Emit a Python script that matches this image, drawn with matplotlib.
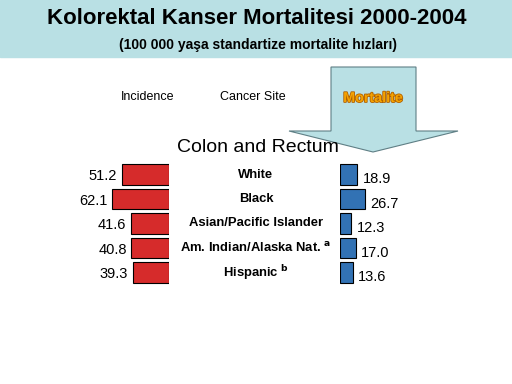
import matplotlib
matplotlib.use('Agg')
import matplotlib.pyplot as plt
from matplotlib.patches import Rectangle, Polygon
import matplotlib.patheffects as pe

# Data
GROUPS = ['White', 'Black', 'Asian/Pacific Islander', 'Am. Indian/Alaska Nat.', 'Hispanic']
MARKS = ['', '', '', 'a', 'b']
INCIDENCE = [51.2, 62.1, 41.6, 40.8, 39.3]
MORTALITY = [18.9, 26.7, 12.3, 17.0, 13.6]

TITLE = 'Kolorektal Kanser Mortalitesi 2000-2004'
SUBTITLE = '(100 000 yaşa standartize mortalite hızları)'

RED = '#d62b2b'
BLUE = '#3272b4'
BAND = '#b9e0e4'
FONT = 'Liberation Sans'

W, H = 512, 384
plt.rcParams['font.family'] = [FONT, 'DejaVu Sans']

fig = plt.figure(figsize=(W / 100, H / 100), dpi=100)

# background axes in pixel coordinates for the slide decorations
bg = fig.add_axes([0, 0, 1, 1])
bg.set_xlim(0, W)
bg.set_ylim(H, 0)
bg.axis('off')

bg.add_patch(Rectangle((0, 0), W, 57, color=BAND, zorder=0))
bg.text(W / 2 + 1, 19, TITLE, ha='center', va='center', fontsize=16, fontweight='bold')
bg.text(W / 2 + 2, 45, SUBTITLE, ha='center', va='center', fontsize=10, fontweight='bold')

bg.text(148, 97, 'Incidence', ha='center', va='center', fontsize=9)
bg.text(253, 97, 'Cancer Site', ha='center', va='center', fontsize=9)

arrow = [(331, 67), (416, 67), (416, 131), (458, 131), (373, 152),
         (289, 131), (331, 131)]
bg.add_patch(Polygon(arrow, closed=True, facecolor=BAND, edgecolor='#5f7f85',
                     linewidth=0.8, zorder=1))
bg.text(373, 98, 'Mortalite', ha='center', va='center', fontsize=10.3,
        fontweight='bold', color='#f5a300', zorder=2,
        path_effects=[pe.withStroke(linewidth=1.2, foreground='#b06000')])

bg.text(258, 148, 'Colon and Rectum', ha='center', va='center', fontsize=14)

# bar panels
scale = 0.92            # pixels per unit
xmax = 70
pw = xmax * scale
row = 24.5
top = 174.5 - row / 2
ph = row * len(GROUPS)


def panel(left_px):
    return fig.add_axes([left_px / W, 1 - (top + ph) / H, pw / W, ph / H])


ax_i = panel(169 - pw)
ax_m = panel(340)
ypos = list(range(len(GROUPS)))

ax_i.barh(ypos, INCIDENCE, height=0.82, color=RED, edgecolor='black', linewidth=0.8)
ax_m.barh(ypos, MORTALITY, height=0.82, color=BLUE, edgecolor='black', linewidth=0.8)

for ax in (ax_i, ax_m):
    ax.set_ylim(len(GROUPS) - 0.5, -0.5)
    ax.set_xlim(0, xmax)
    ax.axis('off')
ax_i.invert_xaxis()

for y, v in zip(ypos, INCIDENCE):
    ax_i.text(v + 5, y + 0.08, f'{v:.1f}', ha='right', va='center', fontsize=10.5)
for y, v in zip(ypos, MORTALITY):
    ax_m.text(v + 6, y + 0.2, f'{v:.1f}', ha='left', va='center', fontsize=10.5)

for i, (g, m) in enumerate(zip(GROUPS, MARKS)):
    yc = top + row * (i + 0.5)
    label = g + (f' $^{{\\mathbf{{{m}}}}}$' if m else '')
    bg.text(256, yc, label, ha='center', va='center', fontsize=9.4,
            fontweight='bold')

fig.savefig('out.png', dpi=100)
